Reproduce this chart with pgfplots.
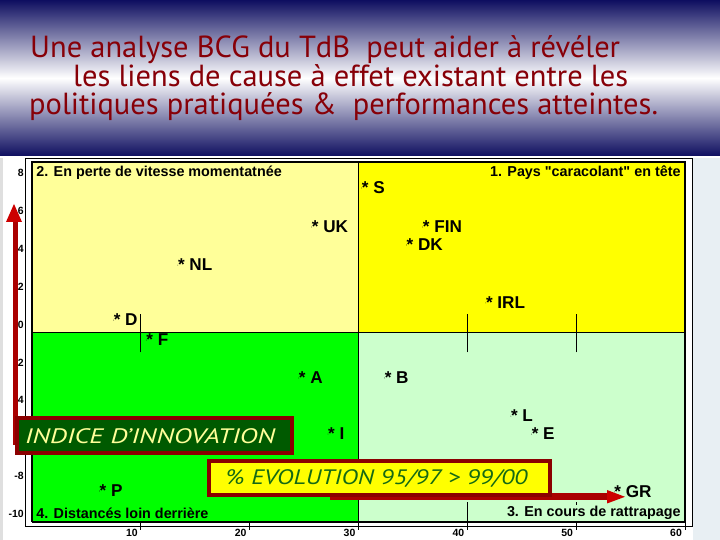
\documentclass[border=0pt]{standalone}
\usepackage{pgfplots}
\pgfplotsset{compat=1.18}
\usepackage{fontspec}
\setmainfont{Liberation Sans}
\newfontfamily\titlefont{PT Sans}
\newfontfamily\nomapsans[Ligatures=ResetAll]{Liberation Sans}
\newcommand{\sq}{{\nomapsans\symbol{34}}}
\definecolor{navy}{RGB}{14,14,96}
\definecolor{titlered}{RGB}{135,0,8}
\definecolor{qyellowpale}{RGB}{255,255,153}
\definecolor{qyellow}{RGB}{255,255,0}
\definecolor{qgreen}{RGB}{0,255,0}
\definecolor{qgreenpale}{RGB}{204,255,204}
\definecolor{boxred}{RGB}{139,0,0}
\definecolor{boxgreen}{RGB}{0,90,0}
\definecolor{arrowred}{RGB}{204,0,0}
\definecolor{shaftred}{RGB}{170,0,0}
\definecolor{sidepanel}{RGB}{232,239,243}
\definecolor{evogreen}{RGB}{20,105,20}
\definecolor{indyellow}{RGB}{255,255,153}

\pgfplotstableread{
x     y      lab
30.3  7.63   S
25.7  5.57   UK
13.4  3.56   NL
7.5   0.66   D
10.5  -0.40  F
35.9  5.57   FIN
34.4  4.62   DK
41.7  1.56   IRL
24.5  -2.40  A
27.2  -5.36  I
6.2   -8.36  P
32.4  -2.40  B
44.0  -4.41  L
45.9  -5.36  E
53.5  -8.41  GR
}\countries

\begin{document}
\begin{tikzpicture}
\begin{scope}[x=1bp,y=1bp]
\useasboundingbox (0,0) rectangle (720,540);
\fill[white] (0,0) rectangle (720,540);
\fill[gray!25] (0,0) rectangle (3,382);
\fill[sidepanel] (693,0) rectangle (720,382);
\shade[top color=navy, bottom color=navy, middle color=white] (0,384) rectangle (720,540);
\fill[white] (0,382) rectangle (720,384);
% chart frame
\draw[black, line width=0.8bp] (25,14) rectangle (692,382);
% title
\node[anchor=base west, inner sep=0pt, text=titlered, font=\titlefont\fontsize{30.6}{33}\selectfont] at (30,482) {Une analyse BCG du TdB\ \ peut aider à révéler};
\node[anchor=base west, inner sep=0pt, text=titlered, font=\titlefont\fontsize{30.6}{33}\selectfont] at (73,453) {les liens de cause à effet existant entre les};
\node[anchor=base west, inner sep=0pt, text=titlered, font=\titlefont\fontsize{30.6}{33}\selectfont] at (29,425) {politiques pratiquées \&\ \ performances atteintes.};
\end{scope}

\begin{axis}[
  at={(32bp,18bp)}, anchor=south west, scale only axis,
  width=653bp, height=360bp,
  xmin=0, xmax=60, ymin=-10, ymax=9,
  axis line style={draw=none},
  clip=false,
  xtick={10,20,30,40,50,60},
  xticklabels={10,20,30,40,50,60},
  ytick={-10,-8,-6,-4,-2,0,2,4,6,8},
  yticklabels={-10,-8,-6,-4,-2,0,2,4,6,8},
  major tick style={draw=none},
  ticklabel style={font=\bfseries\fontsize{10.5}{12}\selectfont, inner sep=0pt},
  xticklabel style={anchor=north, xshift=-9bp, yshift=-7bp},
  yticklabel style={anchor=east, xshift=-8bp, yshift=8bp},
]
% quadrants
\addplot[fill=qyellowpale, draw=black, line width=1.3bp] coordinates {(0,0) (30,0) (30,9) (0,9) (0,0)};
\addplot[fill=qyellow, draw=black, line width=1.3bp] coordinates {(30,0) (60,0) (60,9) (30,9) (30,0)};
\addplot[fill=qgreen, draw=black, line width=1.3bp] coordinates {(0,-10) (30,-10) (30,0) (0,0) (0,-10)};
\addplot[fill=qgreenpale, draw=black, line width=1.3bp] coordinates {(30,-10) (60,-10) (60,0) (30,0) (30,-10)};
% cross ticks on the zero line
\addplot[black, line width=0.8bp] coordinates {(10,-1.05) (10,1.0)};
\addplot[black, line width=0.8bp] coordinates {(40,-1.05) (40,1.0)};
\addplot[black, line width=0.8bp] coordinates {(50,-1.05) (50,1.0)};
% bottom ticks
\addplot[black, line width=0.8bp] coordinates {(40,-8.95) (40,-10.4)};
\addplot[black, line width=0.8bp] coordinates {(50,-8.95) (50,-10.4)};
\addplot[black, line width=0.8bp] coordinates {(10,-10) (10,-10.4)};
\addplot[black, line width=0.8bp] coordinates {(20,-10) (20,-10.4)};
\addplot[black, line width=0.8bp] coordinates {(30,-10) (30,-10.4)};
\addplot[black, line width=0.8bp] coordinates {(60,-10) (60,-10.4)};
% quadrant titles
\node[anchor=west, inner sep=1bp, fill=qyellowpale, font=\bfseries\fontsize{14.4}{16}\selectfont] at (axis cs:0.3,8.42) {2. En perte de vitesse momentatnée};
\node[anchor=east, inner sep=1bp, fill=qyellow, font=\bfseries\fontsize{14.4}{16}\selectfont] at (axis cs:59.7,8.42) {1. Pays \sq caracolant\sq{} en tête};
\node[anchor=west, inner sep=1bp, fill=qgreen, font=\bfseries\fontsize{14.4}{16}\selectfont] at (axis cs:0.3,-9.52) {4. Distancés loin derrière};
\node[anchor=east, inner sep=1bp, fill=qgreenpale, font=\bfseries\fontsize{14.4}{16}\selectfont] at (axis cs:59.7,-9.52) {3. En cours de rattrapage};
% countries
\addplot[only marks, mark=*, mark options={draw=none, fill=none}, mark size=0.1pt,
  point meta=explicit symbolic,
  nodes near coords={*\ \pgfplotspointmeta},
  nodes near coords style={anchor=west, inner sep=0pt, font=\bfseries\fontsize{17.2}{20}\selectfont}]
  table[x=x, y=y, meta=lab] {\countries};
\end{axis}

\begin{scope}[x=1bp,y=1bp]
% vertical arrow (INDICE D'INNOVATION)
\fill[shaftred] (12.5,95) rectangle (17.5,320);
\fill[arrowred] (6,318) -- (22,318) -- (14,336) -- cycle;
% horizontal arrow (% EVOLUTION)
\fill[shaftred] (330,40) rectangle (610,46.5);
\fill[arrowred] (607,50) -- (607,36.5) -- (625,43.2) -- cycle;
% boxes
\node[anchor=south west, minimum width=275bp, minimum height=35bp, inner sep=0pt, fill=boxgreen, draw=boxred, line width=3.5bp] at (15,85) {};
\node[anchor=west, inner sep=0pt, text=indyellow, font=\titlefont\itshape\fontsize{21}{24}\selectfont] at (25,104) {\scalebox{1.3}[1]{INDICE D’INNOVATION}};
\node[anchor=south west, minimum width=341bp, minimum height=34bp, inner sep=0pt, fill=qyellow, draw=boxred, line width=3.5bp] at (207,43) {};
\node[anchor=west, inner sep=0pt, text=evogreen, font=\titlefont\itshape\fontsize{21}{24}\selectfont] at (226,61) {\scalebox{1.2}[1]{\%\ EVOLUTION 95/97 > 99/00}};
\end{scope}
\end{tikzpicture}
\end{document}
